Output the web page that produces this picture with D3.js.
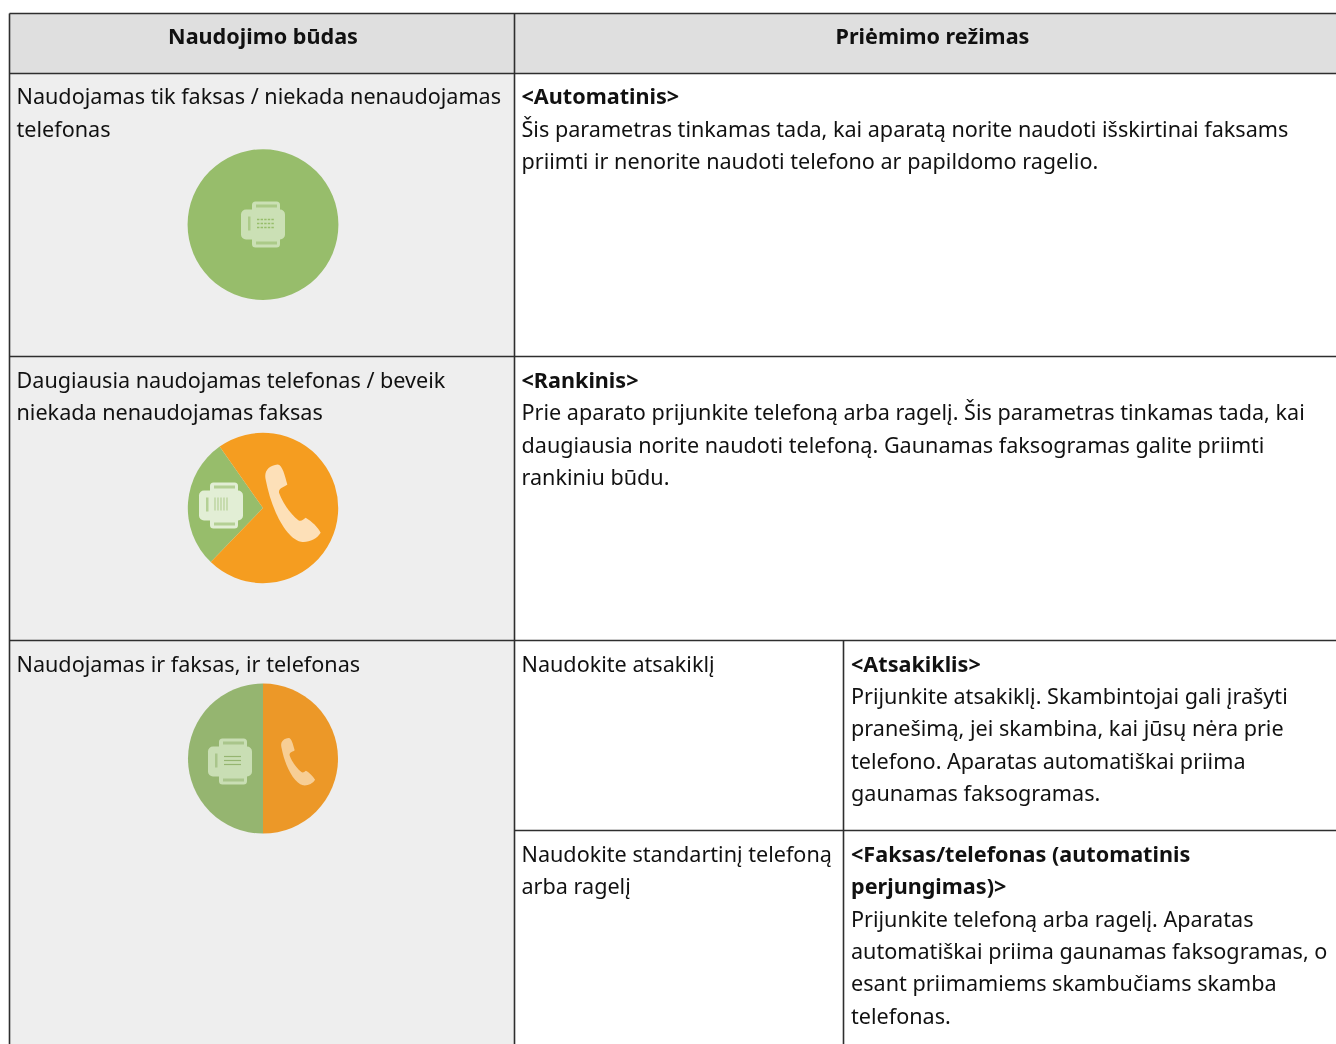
<!DOCTYPE html>
<html>
    <head>
        <meta charset="utf-8">
        <title>Priėmimo režimas</title>
        <script src="https://cdnjs.cloudflare.com/ajax/libs/d3/7.8.5/d3.min.js"></script>
        <style>
            html, body { margin: 0; padding: 0; background: #fff; overflow: hidden; }
            svg { display: block; filter: blur(0.35px); }
            text { font-family: "Noto Sans", sans-serif; font-size: 21.6px; fill: #111; }
        </style>
    </head>

    <body>
        <svg id="canvas" width="1336" height="1044"></svg>

        <script>
            var headers = ["Naudojimo būdas", "Priėmimo režimas"];

            var usageLines = [
                ["Naudojamas tik faksas / niekada nenaudojamas", "telefonas"],
                ["Daugiausia naudojamas telefonas / beveik", "niekada nenaudojamas faksas"],
                ["Naudojamas ir faksas, ir telefonas"]
            ];

            var modeTitles = ["<Automatinis>", "<Rankinis>"];
            var modeLines = [
                ["Šis parametras tinkamas tada, kai aparatą norite naudoti išskirtinai faksams",
                 "priimti ir nenorite naudoti telefono ar papildomo ragelio."],
                ["Prie aparato prijunkite telefoną arba ragelį. Šis parametras tinkamas tada, kai",
                 "daugiausia norite naudoti telefoną. Gaunamas faksogramas galite priimti",
                 "rankiniu būdu."]
            ];

            var subUsageLines = [
                ["Naudokite atsakiklį"],
                ["Naudokite standartinį telefoną", "arba ragelį"]
            ];
            var subTitleLines = [
                ["<Atsakiklis>"],
                ["<Faksas/telefonas (automatinis", "perjungimas)>"]
            ];
            var subLines = [
                ["Prijunkite atsakiklį. Skambintojai gali įrašyti",
                 "pranešimą, jei skambina, kai jūsų nėra prie",
                 "telefono. Aparatas automatiškai priima",
                 "gaunamas faksogramas."],
                ["Prijunkite telefoną arba ragelį. Aparatas",
                 "automatiškai priima gaunamas faksogramas, o",
                 "esant priimamiems skambučiams skamba",
                 "telefonas."]
            ];

            // share of fax vs phone in each circle
            var faxShare = [100, 28, 50];
            var phoneShare = [0, 72, 50];

            var svg = d3.select("#canvas");

            var gridColor = "#2e2e2e";
            var headColor = "#dfdfdf";
            var sideColor = "#eeeeee";
            var lineStep = 32.35;

            var colX = [9.5, 514.5, 843.5, 1336];
            var rowY = [13.5, 73.5, 356.5, 640.5, 830.5, 1044];
            var textX = [16.5, 521.5, 851];
            // first baseline of each body row
            var baseY = [104.3, 387.9, 671.5, 861.95];

            // Backgrounds
            svg.append("rect").attr("x", colX[0]).attr("y", rowY[0])
                .attr("width", colX[3] - colX[0]).attr("height", rowY[1] - rowY[0]).attr("fill", headColor);
            svg.append("rect").attr("x", colX[0]).attr("y", rowY[1])
                .attr("width", colX[1] - colX[0]).attr("height", rowY[5] - rowY[1]).attr("fill", sideColor);

            // Grid
            var rules = [
                [colX[0], rowY[0], colX[3], rowY[0]],
                [colX[0], rowY[1], colX[3], rowY[1]],
                [colX[0], rowY[2], colX[3], rowY[2]],
                [colX[0], rowY[3], colX[3], rowY[3]],
                [colX[1], rowY[4], colX[3], rowY[4]],
                [colX[0], rowY[0], colX[0], rowY[5]],
                [colX[1], rowY[0], colX[1], rowY[5]],
                [colX[2], rowY[3], colX[2], rowY[5]]
            ];
            svg.append("g").selectAll("line").data(rules).enter().append("line")
                .attr("x1", function(d){ return d[0] })
                .attr("y1", function(d){ return d[1] })
                .attr("x2", function(d){ return d[2] })
                .attr("y2", function(d){ return d[3] })
                .attr("stroke", gridColor)
                .attr("stroke-width", 1.6);

            // Text
            function block(x, base, skip, lines, bold) {
                var t = svg.append("g").selectAll("text").data(lines).enter().append("text")
                    .attr("x", x)
                    .attr("y", function(d, i){ return base + (skip + i) * lineStep })
                    .text(function(d){ return d });
                if (bold) t.style("font-weight", 700);
            }

            svg.selectAll("text.head").data(headers).enter().append("text")
                .attr("class", "head")
                .attr("x", function(d, i){ return i == 0 ? 263 : 932.5 })
                .attr("y", 43.5)
                .attr("text-anchor", "middle")
                .style("font-weight", 700)
                .text(function(d){ return d });

            usageLines.forEach(function(lines, i) {
                block(textX[0], baseY[i], 0, lines);
            });
            modeLines.forEach(function(lines, i) {
                block(textX[1], baseY[i], 0, [modeTitles[i]], true);
                block(textX[1], baseY[i], 1, lines);
            });
            subUsageLines.forEach(function(lines, i) {
                block(textX[1], baseY[i + 2], 0, lines);
                block(textX[2], baseY[i + 2], 0, subTitleLines[i], true);
                block(textX[2], baseY[i + 2], subTitleLines[i].length, subLines[i]);
            });

            // Circles
            var pies = [
                {cx: 263, cy: 224.6, r: 75.4, start: 180, colors: ["#97bd6b", "#f59d20"]},
                {cx: 263, cy: 508, r: 75.2, start: 224, colors: ["#97bd6b", "#f59d20"]},
                {cx: 263, cy: 758.6, r: 75, start: 180, colors: ["#95b570", "#ec9828"]}
            ];

            var arc = d3.arc().innerRadius(0);

            pies.forEach(function(p, i) {
                var a0 = p.start * Math.PI / 180;
                var pie = d3.pie().sort(null).startAngle(a0).endAngle(a0 + 2 * Math.PI);
                var g = svg.append("g").attr("transform", "translate(" + p.cx + "," + p.cy + ")");
                g.selectAll("path").data(pie([faxShare[i], phoneShare[i]])).enter().append("path")
                    .attr("d", function(d){ return arc.outerRadius(p.r)(d) })
                    .attr("fill", function(d, j){ return p.colors[j] });
            });

            // Icons
            function faxIcon(cx, cy, fg, bg, kind) {
                var g = svg.append("g").attr("transform", "translate(" + cx + "," + cy + ")");
                g.append("rect").attr("x", -11).attr("y", -23).attr("width", 28).attr("height", 46).attr("rx", 3.5).attr("fill", fg);
                g.append("rect").attr("x", -22).attr("y", -15).attr("width", 44).attr("height", 30).attr("rx", 5).attr("fill", fg);
                var slits = g.append("g").attr("opacity", 0.6);
                slits.append("rect").attr("x", -7).attr("y", -20).attr("width", 21).attr("height", 3).attr("fill", bg);
                slits.append("rect").attr("x", -7).attr("y", 17).attr("width", 21).attr("height", 3).attr("fill", bg);
                slits.append("rect").attr("x", -15).attr("y", -8).attr("width", 2.5).attr("height", 14).attr("fill", bg);
                var i;
                if (kind == "dots") {
                    for (i = 0; i < 3; i++) {
                        g.append("line").attr("x1", -6).attr("x2", 12).attr("y1", -5 + i * 4).attr("y2", -5 + i * 4)
                            .attr("stroke", bg).attr("stroke-width", 1.5).attr("stroke-dasharray", "2.4 1.2");
                    }
                } else if (kind == "bars") {
                    for (i = 0; i < 5; i++) {
                        g.append("line").attr("x1", -6 + i * 3).attr("x2", -6 + i * 3).attr("y1", -8).attr("y2", 5)
                            .attr("stroke", bg).attr("stroke-opacity", 0.6).attr("stroke-width", 1.2);
                    }
                } else {
                    for (i = 0; i < 3; i++) {
                        g.append("line").attr("x1", -6).attr("x2", 11).attr("y1", -5 + i * 4).attr("y2", -5 + i * 4)
                            .attr("stroke", bg).attr("stroke-width", 1.2);
                    }
                }
            }

            var handset = "M2,45 C-4,20 12,2 38,0 C52,0 60,35 67,60 C60,68 40,68 42,85 C52,115 78,150 100,167 C108,172 115,165 122,160 C140,170 160,190 167,205 C155,225 130,235 108,232 C60,220 18,130 2,45 Z";

            function phoneIcon(x, y, s, fg) {
                svg.append("path")
                    .attr("transform", "translate(" + x + "," + y + ") scale(" + s + ")")
                    .attr("d", handset)
                    .attr("fill", fg);
            }

            faxIcon(263, 224.5, "#cbe0b5", "#97bd6b", "dots");
            faxIcon(221, 505.5, "#e2eed5", "#97bd6b", "bars");
            faxIcon(230, 761.5, "#c9deb4", "#95b570", "lines");
            phoneIcon(265, 464.5, 1 / 3, "#fde0b8");
            phoneIcon(281, 738, 0.204, "#f7ce95");
        </script>
    </body>
</html>
